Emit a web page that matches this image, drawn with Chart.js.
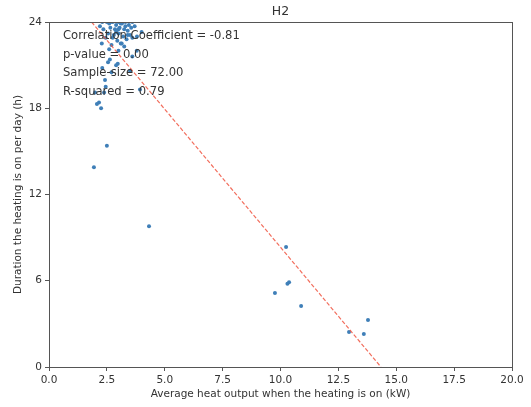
<!DOCTYPE html>
<html>
<head>
<meta charset="utf-8">
<script src="https://cdn.jsdelivr.net/npm/chart.js@4/dist/chart.umd.min.js"></script>
<style>
  html, body { margin: 0; padding: 0; background: #fff; }
  #wrap { width: 531px; height: 407px; }
</style>
</head>
<body>
<div id="wrap"><canvas id="h2"></canvas></div>
<script>
// measured points: heat output (kW) vs hours per day
const heatOutput = [
  2.3, 2.5, 2.6, 2.75, 2.9, 3.0, 3.15, 3.3, 3.45, 2.65,
  2.85, 3.05, 3.25, 3.4, 3.55, 3.7, 2.55, 2.8, 3.0, 3.2,
  3.5, 3.35, 2.45, 2.95, 3.1, 3.6, 2.7, 3.25, 2.6, 3.0,
  2.28, 3.4, 2.63, 2.97, 2.55, 3.79, 2.7, 3.5, 2.42, 2.38,
  3.93, 4.0, 2.35, 2.9, 3.1, 3.6, 2.2, 3.8, 3.14, 3.3,
  2.75, 1.99, 2.9, 3.6, 2.3, 2.45, 3.0, 2.65,
  2.07, 2.16, 2.25, 2.5, 1.94, 4.32,
  10.24, 10.3, 10.37, 9.76, 10.89, 12.96, 13.6, 13.78
];
const hoursOn = [
  24, 24, 23.9, 24, 23.8, 24, 23.9, 24, 23.8, 23.6,
  23.5, 23.6, 23.5, 23.4, 23.6, 23.7, 23.2, 23.1, 23.2, 23.0,
  23.1, 22.8, 22.9, 22.7, 22.5, 22.9, 22.4, 22.3, 22.1, 22.0,
  22.5, 23.1, 21.4, 21.1, 21.2, 22.0, 20.5, 20.6, 19.97, 19.1,
  19.3, 23.3, 23.5, 23.3, 23.9, 24, 23.7, 23.0, 22.5, 23.7,
  22.9, 19.1, 21.0, 21.6, 20.8, 19.5, 23.5, 24,
  18.3, 18.4, 18.0, 15.4, 13.9, 9.8,
  8.35, 5.8, 5.9, 5.15, 4.24, 2.43, 2.3, 3.27
];

// fitted line end points (x where y=24 and y=0)
const fitX = [1.84, 14.34];
const fitY = [24, 0];

const xTicks = [0, 2.5, 5, 7.5, 10, 12.5, 15, 17.5, 20];
const yTicks = [0, 6, 12, 18, 24];

const statLines = [
  "Correlation Coefficient = -0.81",
  "p-value = 0.00",
  "Sample-size = 72.00",
  "R-squared = 0.79"
];

const FONT = "'DejaVu Sans', sans-serif";
const INK = "#333";

const framePlugin = {
  id: "frame",
  afterDraw(chart) {
    const { ctx, chartArea: a } = chart;
    ctx.save();
    ctx.strokeStyle = "#555";
    ctx.lineWidth = 1;
    ctx.strokeRect(Math.round(a.left) + 0.5, Math.round(a.top) + 0.5,
      Math.round(a.right - a.left), Math.round(a.bottom - a.top));

    // stats text
    ctx.fillStyle = INK;
    ctx.font = "11.6px " + FONT;
    ctx.textBaseline = "middle";
    ctx.textAlign = "left";
    statLines.forEach((t, i) => {
      ctx.fillText(t, a.left + 14, a.top + 14 + i * 18.5);
    });

    // title
    ctx.font = "12.5px " + FONT;
    ctx.textAlign = "center";
    ctx.fillText("H2", (a.left + a.right) / 2, 12);
    ctx.restore();
  }
};

new Chart(document.getElementById("h2"), {
  type: "scatter",
  data: {
    datasets: [
      {
        data: heatOutput.map((x, i) => ({ x: x, y: hoursOn[i] })),
        backgroundColor: "#3f7fb8",
        borderColor: "#3f7fb8",
        pointRadius: 2,
        borderWidth: 0,
        order: 2
      },
      {
        type: "line",
        data: fitX.map((x, i) => ({ x: x, y: fitY[i] })),
        borderColor: "rgba(240, 85, 65, 0.85)",
        borderWidth: 1.2,
        borderDash: [4, 2],
        pointRadius: 0,
        fill: false,
        order: 1
      }
    ]
  },
  options: {
    responsive: true,
    maintainAspectRatio: false,
    animation: false,
    layout: { padding: { top: 22, right: 19, left: 0, bottom: 0 } },
    plugins: {
      legend: { display: false },
      tooltip: { enabled: false }
    },
    scales: {
      x: {
        type: "linear",
        min: 0,
        max: 20,
        afterBuildTicks: (s) => { s.ticks = xTicks.map(v => ({ value: v })); },
        afterFit: (s) => { s.height = 40; },
        ticks: {
          color: INK,
          font: { family: FONT, size: 10.5 },
          padding: 3,
          maxRotation: 0,
          callback: (v) => v.toFixed(1)
        },
        grid: { drawOnChartArea: false, drawTicks: true, tickLength: 4, color: "#555" },
        border: { display: false },
        title: {
          display: true,
          text: "Average heat output when the heating is on (kW)",
          color: INK,
          font: { family: FONT, size: 10.5 },
          padding: { top: 0, bottom: 6 }
        }
      },
      y: {
        type: "linear",
        min: 0,
        max: 24,
        afterBuildTicks: (s) => { s.ticks = yTicks.map(v => ({ value: v })); },
        afterFit: (s) => { s.width = 49; },
        ticks: {
          color: INK,
          font: { family: FONT, size: 10.5 },
          padding: 3
        },
        grid: { drawOnChartArea: false, drawTicks: true, tickLength: 4, color: "#555" },
        border: { display: false },
        title: {
          display: true,
          text: "Duration the heating is on per day (h)",
          color: INK,
          font: { family: FONT, size: 10.5 },
          padding: { top: 12, bottom: 0 }
        }
      }
    }
  },
  plugins: [framePlugin]
});
</script>
</body>
</html>
